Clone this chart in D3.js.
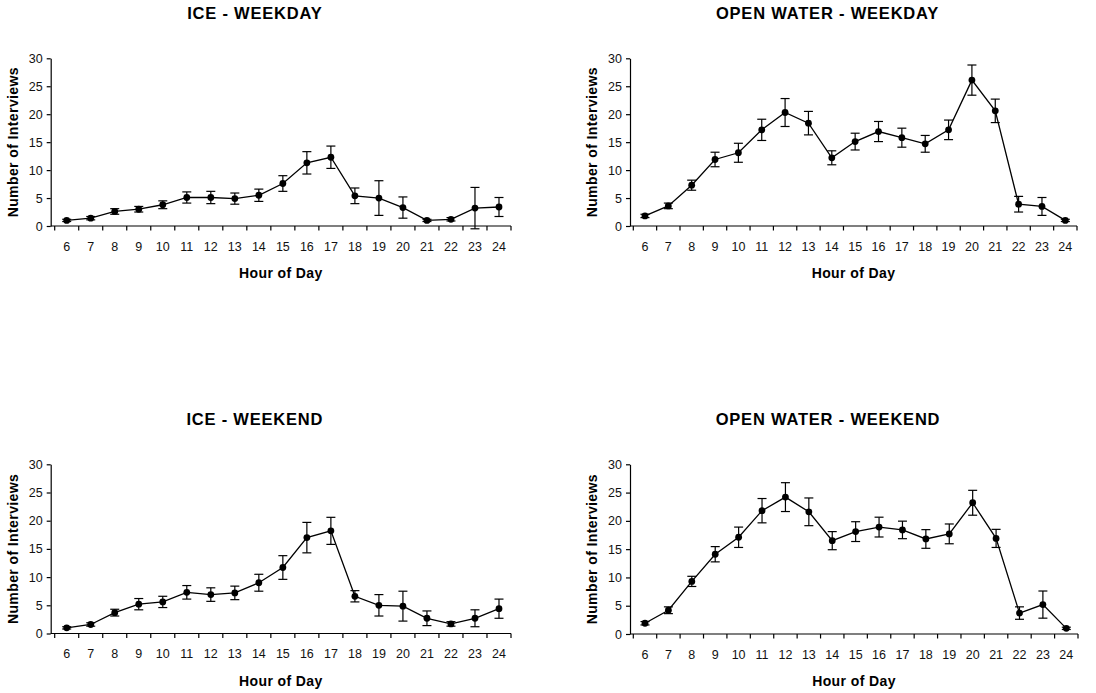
<!DOCTYPE html>
<html>
<head>
<meta charset="utf-8">
<script src="https://cdn.jsdelivr.net/npm/d3@7"></script>
<style>
  body { margin: 0; background: #fff; }
  svg { display: block; font-family: "Liberation Sans", Arial, Helvetica, sans-serif; }
  .tick text { font-size: 12.5px; fill: #111; }
  .title { font-size: 16.5px; font-weight: bold; letter-spacing: 0.8px; }
  .axis-title { font-size: 14px; font-weight: bold; letter-spacing: 0.4px; }
</style>
</head>
<body>
<div id="chart"></div>
<script>
'use strict';

const hours = [6, 7, 8, 9, 10, 11, 12, 13, 14, 15, 16, 17, 18, 19, 20, 21, 22, 23, 24];
const yTicks = [0, 5, 10, 15, 20, 25, 30];

// mean number of interviews per hour and the error bar half-widths
const iceWeekday = [1.0, 1.4, 2.6, 3.0, 3.8, 5.1, 5.1, 4.9, 5.5, 7.6, 11.3, 12.3, 5.4, 5.0, 3.3, 1.0, 1.2, 3.2, 3.4];
const iceWeekdayErr = [0.2, 0.3, 0.5, 0.5, 0.7, 1.0, 1.1, 1.0, 1.1, 1.4, 2.0, 2.0, 1.4, 3.1, 1.9, 0.2, 0.3, 3.7, 1.7];

const openWeekday = [1.8, 3.6, 7.3, 11.9, 13.1, 17.2, 20.3, 18.4, 12.2, 15.1, 16.9, 15.8, 14.7, 17.2, 26.1, 20.6, 3.9, 3.5, 1.0];
const openWeekdayErr = [0.3, 0.5, 0.9, 1.3, 1.7, 1.9, 2.5, 2.1, 1.25, 1.5, 1.8, 1.7, 1.5, 1.75, 2.7, 2.1, 1.4, 1.6, 0.2];

const iceWeekend = [1.0, 1.6, 3.7, 5.2, 5.6, 7.3, 6.9, 7.2, 9.0, 11.7, 17.0, 18.2, 6.6, 5.0, 4.85, 2.7, 1.7, 2.7, 4.4];
const iceWeekendErr = [0.2, 0.3, 0.6, 1.0, 1.0, 1.2, 1.2, 1.2, 1.5, 2.1, 2.7, 2.4, 1.0, 1.9, 2.65, 1.3, 0.4, 1.5, 1.7];

const openWeekend = [1.9, 4.2, 9.3, 14.1, 17.1, 21.8, 24.2, 21.6, 16.5, 18.1, 18.9, 18.4, 16.8, 17.7, 23.2, 16.9, 3.7, 5.2, 1.0];
const openWeekendErr = [0.3, 0.6, 0.9, 1.35, 1.8, 2.15, 2.55, 2.45, 1.6, 1.75, 1.75, 1.55, 1.65, 1.75, 2.2, 1.6, 1.1, 2.4, 0.2];

const titles = ['ICE - WEEKDAY', 'OPEN WATER - WEEKDAY', 'ICE - WEEKEND', 'OPEN WATER - WEEKEND'];

const width = 1096;
const height = 693;

const svg = d3.select('#chart')
  .append('svg')
    .attr('width', width)
    .attr('height', height);

// plot frames: y axis position, band range, vertical range
const frames = [
  { axisX: 50.7, x0: 54.7, x1: 511, yTop: 58.3, yBot: 226, titleY: 19 },
  { axisX: 630, x0: 633.3, x1: 1077, yTop: 58.3, yBot: 226, titleY: 19 },
  { axisX: 50.7, x0: 54.7, x1: 511, yTop: 464.3, yBot: 633.5, titleY: 425 },
  { axisX: 630, x0: 633.3, x1: 1078, yTop: 464.3, yBot: 634, titleY: 425 }
];

const panels = [
  { means: iceWeekday, errs: iceWeekdayErr },
  { means: openWeekday, errs: openWeekdayErr },
  { means: iceWeekend, errs: iceWeekendErr },
  { means: openWeekend, errs: openWeekendErr }
];

panels.forEach((p, i) => {
  const f = frames[i];
  const data = hours.map((h, j) => ({ hour: h, mean: p.means[j], err: p.errs[j] }));

  const x = d3.scaleBand()
    .domain(hours)
    .range([f.x0, f.x1])
    .padding(0);

  const y = d3.scaleLinear()
    .domain([0, 30])
    .range([f.yBot, f.yTop]);

  const cx = d => x(d.hour) + x.bandwidth() / 2;

  const g = svg.append('g');

  // y axis
  g.append('g')
    .attr('transform', 'translate(' + f.axisX + ',0)')
    .call(d3.axisLeft(y).tickValues(yTicks).tickSize(4).tickSizeOuter(0).tickPadding(4))
    .call(a => a.select('.domain').attr('stroke', '#000').attr('stroke-width', 1.2))
    .call(a => a.selectAll('.tick line').attr('stroke', '#000').attr('stroke-width', 1.2));

  // x axis line + labels at band centres
  g.append('g')
    .attr('transform', 'translate(0,' + f.yBot + ')')
    .call(d3.axisBottom(x).tickSize(0).tickPadding(16))
    .call(a => a.select('.domain').remove())
    .call(a => a.selectAll('.tick text').attr('dy', '0.71em'));

  g.append('line')
    .attr('x1', f.axisX)
    .attr('x2', f.x1)
    .attr('y1', f.yBot)
    .attr('y2', f.yBot)
    .attr('stroke', '#000')
    .attr('stroke-width', 1.2);

  // boundary ticks between hours
  g.selectAll('.bound')
    .data(hours.concat(['end']))
    .enter()
    .append('line')
    .attr('class', 'bound')
    .attr('x1', (d, j) => f.x0 + j * x.step())
    .attr('x2', (d, j) => f.x0 + j * x.step())
    .attr('y1', f.yBot)
    .attr('y2', f.yBot + 4.5)
    .attr('stroke', '#000')
    .attr('stroke-width', 1.2);

  // connecting line
  const line = d3.line()
    .x(cx)
    .y(d => y(d.mean));

  g.append('path')
    .datum(data)
    .attr('d', line)
    .attr('fill', 'none')
    .attr('stroke', '#000')
    .attr('stroke-width', 1.3);

  // error bars
  const bars = g.selectAll('.err')
    .data(data)
    .enter()
    .append('g')
    .attr('class', 'err')
    .attr('stroke', '#000')
    .attr('stroke-width', 1.2);

  bars.append('line')
    .attr('x1', cx).attr('x2', cx)
    .attr('y1', d => y(d.mean - d.err))
    .attr('y2', d => y(d.mean + d.err));

  bars.append('line')
    .attr('x1', d => cx(d) - 4.5).attr('x2', d => cx(d) + 4.5)
    .attr('y1', d => y(d.mean + d.err))
    .attr('y2', d => y(d.mean + d.err));

  bars.append('line')
    .attr('x1', d => cx(d) - 4.5).attr('x2', d => cx(d) + 4.5)
    .attr('y1', d => y(d.mean - d.err))
    .attr('y2', d => y(d.mean - d.err));

  // points
  g.selectAll('circle')
    .data(data)
    .enter()
    .append('circle')
    .attr('cx', cx)
    .attr('cy', d => y(d.mean))
    .attr('r', 3.4)
    .attr('fill', '#000');

  // titles
  const midX = (f.axisX + f.x1) / 2;

  g.append('text')
    .attr('class', 'title')
    .attr('x', midX - 26)
    .attr('y', f.titleY)
    .attr('text-anchor', 'middle')
    .text(titles[i]);

  g.append('text')
    .attr('class', 'axis-title')
    .attr('x', midX)
    .attr('y', f.yBot + 52)
    .attr('text-anchor', 'middle')
    .text('Hour of Day');

  g.append('text')
    .attr('class', 'axis-title')
    .attr('transform', 'translate(' + (f.axisX - 33) + ',' + ((f.yTop + f.yBot) / 2) + ') rotate(-90)')
    .attr('text-anchor', 'middle')
    .text('Number of Interviews');
});
</script>
</body>
</html>
